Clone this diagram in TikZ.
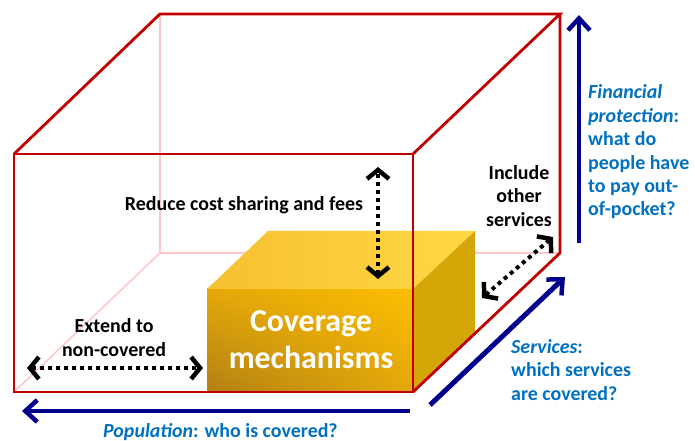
\documentclass[tikz,border=0pt]{standalone}
\usepackage{fontspec}
\setmainfont{Carlito}
\usetikzlibrary{arrows.meta,shadings}
\definecolor{CubeRed}{RGB}{192,0,0}
\definecolor{HiddenPink}{RGB}{255,200,200}
\definecolor{AxisBlue}{RGB}{0,0,140}
\definecolor{TextBlue}{RGB}{0,112,192}
\definecolor{BoxDark}{RGB}{178,128,20}
\definecolor{BoxMid}{RGB}{228,168,10}
\definecolor{BoxBright}{RGB}{252,190,0}
\definecolor{BoxTop}{RGB}{246,192,48}
\definecolor{BoxTopLight}{RGB}{255,216,70}
\definecolor{BoxSide}{RGB}{212,166,8}
\tikzstyle{Edge}=[draw=CubeRed, line width=2.8pt, line join=miter]
\tikzstyle{Hidden}=[draw=HiddenPink, line width=1.6pt]
\tikzstyle{Dots}=[black, line width=4pt, dash pattern=on 4pt off 4pt,
  {Straight Barb[length=9pt,width=22pt,line width=4.5pt]}-{Straight Barb[length=9pt,width=22pt,line width=4.5pt]}]
\tikzstyle{Axis}=[draw=AxisBlue, line width=5pt, -{Straight Barb[length=12pt,width=22pt,line width=4.5pt]}]
\tikzstyle{Label}=[inner sep=0pt, font=\fontsize{20}{24}\selectfont\bfseries, align=center]
\tikzstyle{Blue}=[inner sep=0pt, text=TextBlue, font=\fontsize{20}{23.5}\selectfont\bfseries, align=left]

\begin{document}
\begin{tikzpicture}[x=1bp, y=-1bp]

    \useasboundingbox (0,0) rectangle (695,441);

    % cube corners
    \coordinate (blt) at (160,14);
    \coordinate (brt) at (560,14);
    \coordinate (blb) at (160,253);
    \coordinate (brb) at (560,253);
    \coordinate (flt) at (14,154);
    \coordinate (frt) at (413,154);
    \coordinate (flb) at (14,392);
    \coordinate (frb) at (413,392);

    % hidden edges
    \draw[Hidden] (blt) -- (blb) -- (brb);
    \draw[Hidden] (blb) -- (flb);

    % coverage box
    \shade[lower left=BoxDark, upper left=BoxMid, lower right=BoxMid, upper right=BoxBright]
        (207,289) rectangle (413,392);
    \shade[left color=BoxTop, right color=BoxTopLight]
        (207,289) -- (268,231) -- (475,231) -- (413,289) -- cycle;
    \fill[BoxSide] (413,289) -- (475,231) -- (475,334) -- (413,392) -- cycle;
    \node[Label, text=white, font=\fontsize{32}{37}\selectfont\bfseries] (cov) at (311,340) {Coverage\\mechanisms};

    % visible edges
    \draw[Edge] (flt) rectangle (frb);
    \draw[Edge] (flt) -- (blt) -- (brt) -- (frt);
    \draw[Edge] (brt) -- (brb) -- (frb);

    % changes
    \node[Label] (fees) at (244,205) {Reduce cost sharing and fees};
    \node[Label] (other) at (519,196) {Include\\other\\services};
    \node[Label] (extend) at (114,338) {Extend to\\non-covered};

    \coordinate (feesTop) at (378,167);
    \coordinate (feesBot) at (378,279);
    \coordinate (otherTop) at (553,237);
    \coordinate (otherBot) at (482,298);
    \coordinate (extL) at (27,368);
    \coordinate (extR) at (203,368);

    \draw[Dots] (feesBot) -- (feesTop);
    \draw[Dots] (otherBot) -- (otherTop);
    \draw[Dots] (extL) -- (extR);

    % dimensions
    \coordinate (finS) at (579,243);
    \coordinate (finE) at (579,15);
    \coordinate (popS) at (410,411);
    \coordinate (popE) at (22,411);
    \coordinate (serS) at (430,405);
    \coordinate (serE) at (565,277);

    \draw[Axis] (finS) -- (finE);
    \draw[Axis] (popS) -- (popE);
    \draw[Axis] (serS) -- (serE);

    \node[Blue, anchor=west] (fin) at (588,152) {\textit{Financial}\\\textit{protection}:\\what do\\people have\\to pay out-\\of-pocket?};
    \node[Blue, anchor=west] (ser) at (511,370) {\textit{Services}:\\which services\\are covered?};
    \node[Blue, anchor=base west] (pop) at (103,437) {\textit{Population}: who is covered?};

\end{tikzpicture}
\end{document}
